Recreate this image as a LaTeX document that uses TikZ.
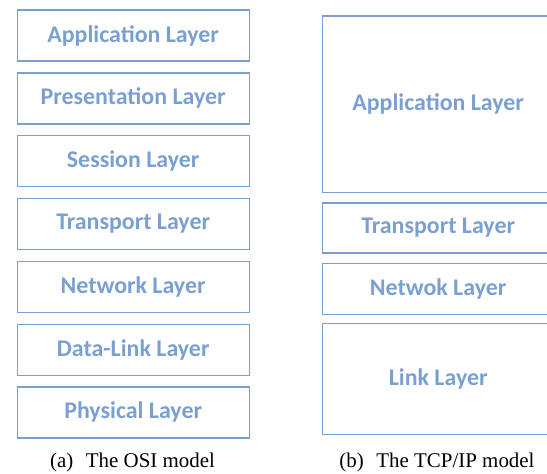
\documentclass[tikz,border=0pt]{standalone}
\usepackage{fontspec}
\setmainfont{Liberation Serif}
\newfontfamily\layerfont{Carlito}
\usetikzlibrary{positioning}
\definecolor{layerblue}{RGB}{122,160,210}

\begin{document}
\begin{tikzpicture}[x=1bp, y=1bp, node distance=10.5bp]
  % Define styles
  \tikzstyle{layer} = [rectangle, draw=layerblue, line width=1.3bp, text=layerblue, minimum width=232bp, minimum height=51bp, inner sep=0pt, font=\layerfont\bfseries\fontsize{24}{28}\selectfont]
  \tikzstyle{caption} = [font=\fontsize{21}{24}\selectfont, text=black]

  \useasboundingbox (0,0) rectangle (547,-474);

  % OSI model
  \node [layer, anchor=north west] (application) at (16.5,-9.5) {Application Layer};
  \node [layer, below=of application] (presentation) {Presentation Layer};
  \node [layer, below=of presentation] (session) {Session Layer};
  \node [layer, below=of session] (transport) {Transport Layer};
  \node [layer, below=of transport] (network) {Network Layer};
  \node [layer, below=of network] (datalink) {Data-Link Layer};
  \node [layer, below=of datalink] (physical) {Physical Layer};
  \node [caption] (osicap) at (132.5,-462) {(a)\hspace{0.6em}The OSI model};

  % TCP/IP model
  \node [layer, anchor=north west, minimum height=176bp] (tcpapplication) at (321.5,-15.5) {Application Layer};
  \node [layer, below=9.5bp of tcpapplication, minimum height=50bp] (tcptransport) {Transport Layer};
  \node [layer, below=9bp of tcptransport] (tcpnetwork) {Netwok Layer};
  \node [layer, below=8bp of tcpnetwork, minimum height=111bp] (tcplink) {Link Layer};
  \node [caption] (tcpcap) at (437,-462) {(b)\hspace{0.6em}The TCP/IP model};
\end{tikzpicture}
\end{document}
